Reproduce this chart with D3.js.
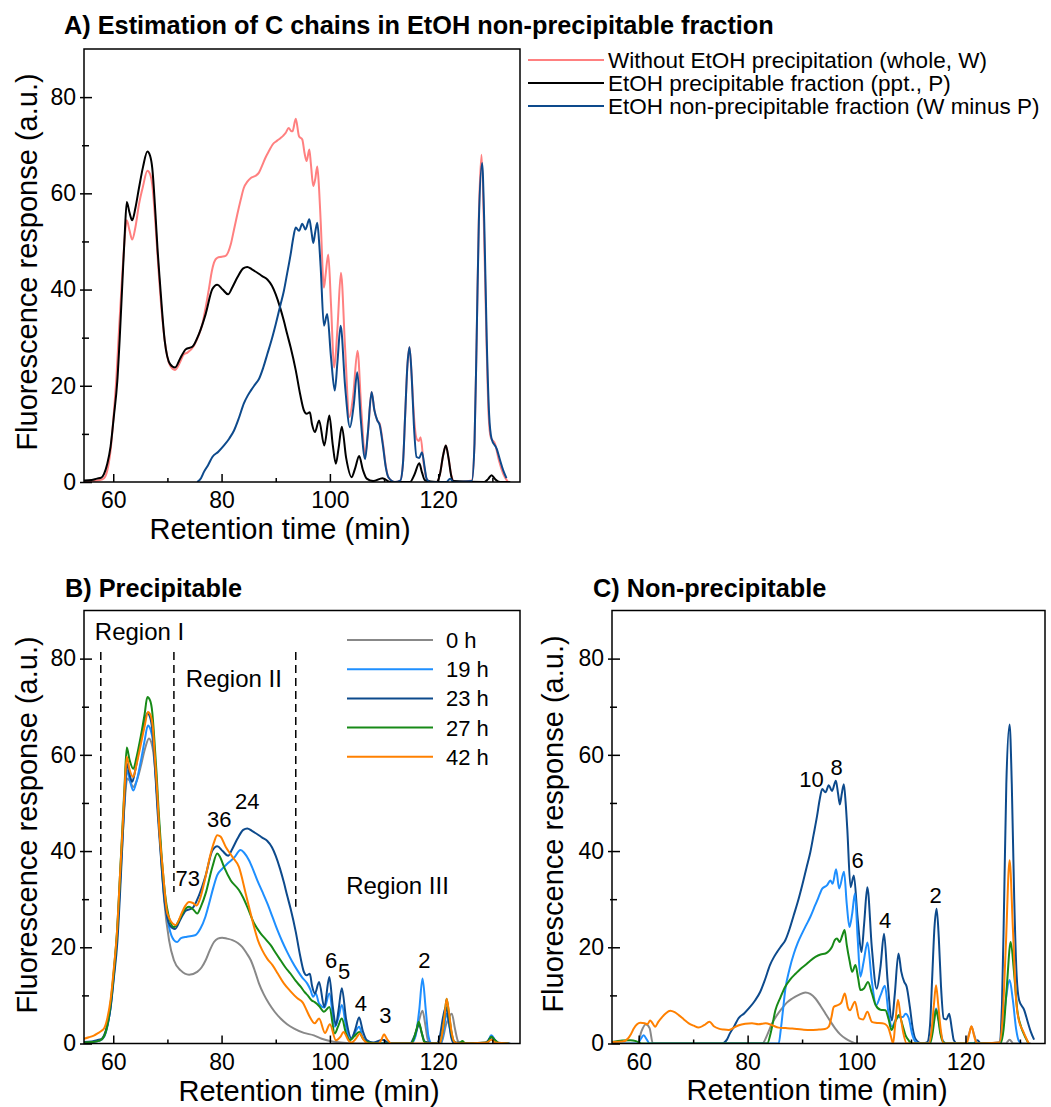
<!DOCTYPE html>
<html>
<head>
<meta charset="utf-8">
<script src="https://cdn.jsdelivr.net/npm/d3@7"></script>
<style>
  body { margin: 0; background: #fff; }
  svg { display: block; }
  text { font-family: "Liberation Sans", Arial, sans-serif; fill: #000; }
</style>
</head>
<body>
<div id="chart"></div>
<script>
// ---- data: [retention time (min), fluorescence (a.u.)] ----

// panel A, whole sample (W)
const wholeW = [[54.6,0.2],[56,0.2],[57.5,0.4],[58.3,0.8],[58.9,2.4],[59.5,6.5],[60.1,14.2],[60.6,22],[61.05,31.4],[61.5,40],[61.9,47.3],[62.5,54.4],[63.0,52.3],[63.5,50.4],[64.1,53],[64.75,57.7],[65.5,61.5],[66.3,64.7],[66.8,64],[67.2,61.8],[67.8,53.5],[68.3,45],[68.9,36],[69.5,29.4],[70.5,24.2],[71.4,23.3],[72.45,25.2],[73.0,26.5],[73.7,26.9],[74.9,28.3],[75.7,30.3],[76.45,32.8],[77.1,36.5],[77.7,40.4],[78.2,43.8],[78.6,45.6],[79.2,46.6],[80.0,46.8],[80.75,47.0],[81.7,49.4],[82.3,52.5],[82.9,55.6],[83.5,58.5],[84.1,61.1],[84.8,62.5],[85.4,63.2],[86.2,63.6],[86.9,64.3],[87.5,65.8],[88.1,67.4],[88.8,68.9],[89.4,70.1],[90.2,70.9],[90.9,71.5],[91.4,72.0],[91.8,72.5],[92.4,73.6],[92.8,73.0],[93.1,72.9],[93.7,75.5],[94.3,71.85],[94.9,71.2],[95.3,68.5],[95.7,66.7],[96.2,69.1],[96.5,66],[96.93,61.5],[97.3,63],[97.67,65.6],[98.0,61],[98.3,54.2],[98.9,40.4],[99.2,43],[99.7,47.3],[100.2,37],[100.8,23.8],[101.4,32],[102.04,43.5],[102.8,28],[103.6,13.5],[104.3,18],[105.1,27.3],[105.8,15],[106.5,5.5],[107.0,10],[107.7,18.7],[108.2,15],[108.75,12.8],[109.2,12.1],[109.8,8],[110.3,3.5],[110.8,1.0],[112,0],[113.0,0.3],[113.5,4],[113.9,14],[114.3,24],[114.7,28.0],[115.1,22],[115.5,14],[116.0,9.0],[116.4,8.5],[116.75,9.3],[117.3,4],[117.85,0.7],[118.5,0],[119.7,0],[120.3,1.5],[120.9,5.5],[121.4,7.6],[121.9,5],[122.4,1.5],[122.8,0.3],[124,0],[126.2,0.3],[126.7,8],[127.1,30],[127.5,55],[128.0,68.0],[128.4,55],[128.9,30],[129.3,14],[129.7,9.3],[130.5,7.9],[131.2,4.5],[132.0,1.7],[132.9,0]];

// precipitable fraction (P) = 23 h precipitable
const pptP = [[54.6,0.3],[56,0.4],[57,0.7],[57.8,0.9],[58.3,1.7],[58.9,3.8],[59.5,7.3],[60.1,13.5],[60.75,21],[61.2,30],[61.7,41.8],[62.1,51],[62.5,58.2],[63.0,56],[63.5,54.4],[64.1,57],[64.75,61.1],[65.5,65.5],[66.3,68.7],[66.8,67.8],[67.2,65.3],[67.8,55.6],[68.2,48],[68.6,41.8],[69.5,29.4],[70.5,24.5],[71.4,23.8],[72.45,25.9],[73.4,27.6],[74.6,28.1],[75.8,30.7],[77.06,34.9],[78.3,40.1],[79.2,41.0],[80.2,40.0],[81.2,39.0],[82.0,40.5],[82.9,42.5],[84.0,44.4],[84.75,44.7],[85.6,44.2],[86.6,43.5],[87.5,42.8],[88.45,42.1],[89.3,40.8],[90.0,39.0],[90.8,36.3],[91.5,33.5],[92.1,30.8],[92.75,28.0],[93.7,23.2],[94.5,18.3],[95.2,14.9],[95.7,14.2],[96.3,14.5],[96.7,12.0],[97.24,10.4],[98.0,12.8],[98.96,7.6],[99.9,13.8],[100.5,8],[101.1,3.8],[101.6,7],[102.2,11.5],[103.0,5],[104.0,1.0],[104.7,3],[105.4,5.4],[106.1,2.5],[106.8,0.7],[108,0.2],[109.7,0.8],[111.1,0],[114.8,0],[115.6,1.5],[116.5,3.9],[117.0,2],[117.55,0.35],[119.7,0],[120.3,1.5],[120.9,5.5],[121.4,7.6],[121.9,5],[122.4,1.3],[122.8,0.2],[128.5,0],[129.2,0.6],[129.85,1.4],[130.5,0.6],[131.4,0],[133.3,0]];

// non-precipitable fraction (W minus P) = 23 h non-precipitable
const nonPpt = [[75.5,0],[76.2,0.8],[76.75,2.1],[77.5,3.5],[78.3,5.2],[79.4,6.3],[80.45,7.6],[81.4,9.0],[82.3,10.7],[83.2,13.3],[84.1,16.3],[84.8,17.9],[85.4,19.0],[86.2,20.3],[86.9,21.4],[87.7,23.8],[88.45,26.6],[89.2,29.4],[90.0,32.8],[90.8,36.5],[91.5,39.7],[92.1,43.3],[92.75,47.3],[93.2,50.5],[93.7,52.9],[94.3,52.2],[94.9,53.7],[95.5,52.5],[96.2,54.6],[96.6,52],[96.93,49.7],[97.3,52],[97.67,53.9],[98.0,50],[98.3,44.6],[98.9,32.5],[99.5,34.9],[100.2,26],[100.9,19.0],[101.4,25],[101.98,32.5],[102.8,20],[103.7,11.4],[104.4,16],[105.05,22.8],[105.7,13],[106.5,4.8],[107.0,10],[107.7,18.7],[108.2,15],[108.75,12.8],[109.2,11.8],[109.8,7.5],[110.3,3.2],[110.8,1.0],[112,0],[113.0,0.3],[113.5,4],[113.9,14],[114.3,24],[114.7,28.0],[115.1,22],[115.5,12],[116.0,5.2],[116.5,5.0],[117.0,6.2],[117.5,3],[117.85,0.7],[118.5,0],[121.5,0],[122.2,0.7],[122.8,0],[126.2,0.2],[126.7,8],[127.1,30],[127.5,54],[128.1,66.3],[128.5,54],[128.95,30],[129.4,14],[129.85,9.0],[130.8,6.9],[131.5,4.2],[132.0,2.4],[132.6,0.8]];

// panel B, precipitable fractions
const ppt0h = [[54.6,0.2],[56,0.3],[57.5,0.6],[58.3,1.4],[58.9,3.5],[59.5,7.6],[60.1,14],[60.75,22.9],[61.2,32],[61.7,42.2],[62.1,50],[62.6,55.1],[63.1,54.5],[63.7,53.3],[64.3,54.5],[65.06,57.5],[65.8,61],[66.6,63.4],[67.1,62.3],[67.5,59.6],[68.0,53],[68.45,45.7],[68.9,37.5],[69.4,29.8],[70.3,21.5],[71.2,17.3],[72.45,15.2],[74.0,14.3],[75.5,14.9],[76.3,15.8],[77.06,17.3],[77.8,19.3],[78.6,21.1],[79.3,21.8],[80.1,22.0],[81.0,21.8],[82.0,21.5],[83.0,20.9],[83.8,20.1],[84.6,18.8],[85.4,17.3],[86.2,14.9],[86.9,12.5],[87.8,10.2],[88.75,8.3],[89.8,6.6],[90.9,5.2],[92.1,4.0],[93.4,3.1],[95.2,2.2],[97.05,1.7],[98.5,1.0],[100,0.5],[102,0.2],[105,0],[115.0,0],[115.7,1.4],[116.4,4.5],[117.1,6.8],[117.6,4],[118.1,0.7],[118.8,0],[120.5,0],[121.5,4.1],[122.5,6.2],[123.1,3],[123.7,0.4],[124.5,0],[129.0,0],[129.8,1.0],[130.6,0.2],[133,0]];
const ppt19h = [[54.6,0.2],[56,0.3],[57.5,0.6],[58.3,1.4],[58.9,3.5],[59.5,7.6],[60.1,14.5],[60.75,23.6],[61.2,33],[61.7,43.6],[62.1,51],[62.6,56.8],[63.1,54.5],[63.7,52.6],[64.3,54.5],[65.06,58.5],[65.8,63],[66.4,66.1],[66.9,65.2],[67.4,62.3],[67.9,55],[68.3,47.8],[68.8,40],[69.25,32.6],[70.3,24.2],[71.2,21.5],[71.8,21.1],[72.5,21.9],[73.6,22.2],[75.1,22.5],[76.1,23.9],[77.0,26.3],[77.7,29.1],[78.5,32.5],[79.2,35.0],[80.1,36.3],[81.1,37.4],[82.3,38.6],[83.5,40.2],[84.2,39.6],[85.06,38.1],[85.8,36.2],[86.6,33.9],[87.5,31.6],[88.45,29.1],[89.4,26.3],[90.3,23.6],[91.2,21.2],[92.1,19.05],[93.0,17.1],[94.0,15.2],[94.9,13.7],[95.8,12.5],[96.4,11.2],[96.9,9.7],[97.4,10.4],[98.0,8.3],[99.0,7.5],[99.9,10.4],[100.9,3.5],[101.6,5.5],[102.2,8.0],[103.0,3.5],[103.7,0.8],[104.5,2.0],[105.4,3.5],[106.0,1.5],[106.8,0.3],[108,0],[115.0,0],[115.8,1.5],[116.5,7],[117.1,13.5],[117.7,7],[118.2,1.5],[118.8,0],[120.5,0],[121.0,2.5],[121.5,6.2],[122.1,3.5],[122.7,0.6],[123.5,0],[129.0,0.2],[129.8,1.7],[130.6,0.6],[131.5,0],[133,0]];
const ppt23h = pptP;
const ppt27h = [[54.6,0.2],[56,0.3],[57.5,0.6],[58.3,1.5],[58.9,3.8],[59.5,8.3],[60.1,15],[60.75,24.2],[61.2,34],[61.7,45.0],[62.1,54],[62.5,61.5],[63.0,59],[63.7,57.1],[64.3,59.5],[65.06,63.7],[65.8,68.5],[66.3,72.0],[66.8,71.3],[67.2,68.9],[67.6,63],[68.0,56.1],[68.4,48],[68.9,39.5],[69.9,28.4],[71.2,24.2],[72.45,26.3],[73.0,27.5],[74.0,28.4],[74.9,27.7],[75.5,27.0],[76.2,28.5],[77.06,31.2],[78.3,36.7],[79.2,39.5],[79.7,38.8],[80.45,36.7],[81.7,33.9],[83.2,31.9],[84.0,30.3],[84.75,28.4],[86.0,25.0],[87.2,22.9],[88.2,21.6],[89.1,20.4],[90.0,18.8],[90.9,17.3],[91.8,15.8],[92.75,14.5],[93.7,13.0],[94.6,11.8],[95.4,10.6],[95.9,10.0],[96.3,9.4],[96.6,9.0],[97.2,8.6],[98.0,7.8],[98.9,6.6],[99.9,7.6],[100.9,2.1],[101.5,3.5],[102.2,5.2],[103.0,2.0],[103.7,0.7],[104.5,1.5],[105.4,2.4],[106.0,1.2],[106.8,0.3],[108,0.1],[109.5,0],[115.0,0],[115.5,1],[116.0,3],[116.4,4.5],[116.9,2.5],[117.4,0.4],[118.2,0],[120.3,0],[120.8,2.5],[121.2,6],[121.55,9.3],[122.0,6],[122.5,2.0],[123.0,0.3],[123.8,0],[124.5,0.5],[125.0,0],[129.0,0.2],[129.8,1.4],[130.4,0.8],[131.4,0],[133,0]];
const ppt42h = [[54.6,1.0],[55.5,1.3],[56.5,1.7],[57.1,2.1],[57.8,2.6],[58.3,3.1],[58.9,5.2],[59.5,9.0],[60.1,15.5],[60.75,24.2],[61.2,34],[61.7,44.3],[62.1,53],[62.5,59.6],[63.0,57],[63.7,55.4],[64.3,58],[65.06,62.0],[65.8,66],[66.4,68.9],[66.9,68.2],[67.3,65.8],[67.6,61],[68.1,52.6],[68.5,44.5],[69.1,36.7],[70.0,27.0],[71.5,24.6],[72.75,27.4],[73.3,28.6],[74.0,29.4],[74.7,29.2],[75.4,28.7],[76.0,30],[76.75,33.2],[78.0,39.5],[78.6,41.8],[79.2,43.3],[79.8,43.0],[80.75,40.9],[82.0,38.8],[83.2,36.7],[84.45,31.2],[85.2,27.8],[86.0,24.2],[86.7,21.5],[87.5,19.4],[88.45,17.6],[89.4,16.3],[90.4,14.5],[91.5,12.5],[92.7,10.9],[94.0,9.4],[95.0,8.5],[95.7,6.9],[96.3,5.5],[97.2,4.2],[98.0,5.2],[99.1,2.2],[100.0,4.0],[101.1,0.7],[102.0,1.5],[102.5,2.4],[103.5,0.5],[104.0,0.2],[104.8,1],[105.55,2.1],[106.2,0.8],[107.1,0],[109.0,0],[109.5,0.8],[110.0,1.9],[110.5,1.0],[111.4,0],[120.3,0],[120.8,2.5],[121.2,6],[121.55,9.3],[122.0,6.3],[122.5,2.2],[123.0,0.3],[124,0],[129.0,0.2],[129.8,0.8],[130.6,0.2],[133,0]];

// panel C, non-precipitable fractions
const non0h = [[55.1,0],[59.8,0],[60.5,2.5],[61.3,4.0],[62.0,3.2],[62.6,0],[82.7,0],[83.6,1.8],[84.5,4.2],[85.4,5.9],[86.3,7.3],[87.2,8.5],[88.2,9.35],[89.4,10.1],[90.6,10.6],[91.5,10.3],[92.45,9.35],[93.4,7.8],[94.3,6.2],[95.2,4.6],[96.1,3.1],[97.0,1.9],[98.0,1.0],[99.0,0.4],[100,0],[120.0,0],[120.6,1.8],[121.1,3.5],[121.6,1.8],[122.2,0],[127.4,0],[128.1,0.8],[128.8,0],[132.0,0]];
const non19h = [[55.1,0],[59.8,0],[60.4,1.0],[60.9,1.7],[61.5,0.8],[62.0,0],[85.7,0],[86.1,3],[86.5,7],[86.9,11.1],[87.7,15.5],[88.5,18.7],[89.2,20.9],[90.0,22.9],[90.8,24.7],[91.5,26.3],[92.2,28.2],[92.8,29.8],[93.3,31.2],[93.7,32.2],[94.6,32.9],[95.2,33.9],[95.6,33.2],[96.25,36.2],[96.8,32.2],[97.7,35.7],[98.2,29],[98.7,24.2],[99.2,27],[99.7,31.2],[100.2,22],[100.7,13.9],[101.3,17],[102.0,21],[102.8,13],[103.6,8],[104.4,10],[105.2,12],[105.9,6],[106.5,3.5],[107.2,5],[107.8,5.5],[108.5,5.5],[109.0,6.2],[109.6,5.2],[110.2,2],[110.8,0.4],[111.5,0],[113.3,0],[113.8,2.5],[114.2,5.5],[114.6,7.3],[115.0,5.5],[115.5,2],[116.0,0.3],[116.5,0],[126.2,0],[126.8,3],[127.4,9],[128.1,13.2],[128.7,9],[129.3,3],[129.8,0.5],[130.3,0]];
const non23h = nonPpt;
const non27h = [[55.1,0.3],[57,0.6],[58.5,0.7],[59.5,0.5],[60.5,0],[83.6,0],[84.3,2.5],[85.1,6.9],[86.0,9.5],[86.9,11.8],[87.8,13.3],[88.8,14.5],[89.7,15.5],[90.6,16.3],[91.5,17.2],[92.45,18.0],[93.4,18.5],[94.3,18.7],[95.0,19.3],[95.5,20.1],[96.0,21.5],[96.4,21.8],[96.9,21.1],[97.4,22.5],[97.8,23.6],[98.2,20.5],[98.7,17.3],[99.2,14.9],[99.8,16.3],[100.3,13.5],[100.7,11.1],[101.4,11.5],[102.1,12.8],[102.8,10.5],[103.5,8.0],[104.4,7.0],[105.3,6.9],[105.9,5.0],[106.4,2.8],[107.1,4.5],[107.8,5.9],[108.4,4.0],[109.0,1.7],[109.6,0.6],[110.2,0],[113.5,0],[114.0,2.5],[114.3,5],[114.6,7.0],[115.0,5],[115.4,2],[115.9,0.3],[116.4,0],[126.4,0],[127.0,3],[127.6,12],[128.3,21.1],[128.9,15],[129.5,7],[130.2,3.5],[130.9,1.5],[131.6,0]];
const non42h = [[55.1,0.3],[57.0,0.4],[58.0,1.0],[58.6,2.0],[59.1,3.1],[59.7,4.0],[60.3,4.3],[61.1,4.2],[61.6,4.0],[62.1,4.8],[63.05,3.5],[63.6,4.5],[64.3,5.5],[65.0,6.3],[65.8,6.8],[66.6,6.5],[67.35,5.9],[68.3,5.0],[69.2,4.2],[70.1,3.7],[71.0,3.3],[72.0,3.8],[73.0,4.5],[73.8,3.6],[74.7,3.1],[75.6,2.9],[76.5,2.8],[77.5,3.3],[78.4,3.8],[79.6,4.1],[80.8,4.2],[82.0,4.0],[83.3,4.2],[84.5,3.8],[85.7,3.3],[87.0,3.2],[88.2,3.1],[90.0,2.9],[91.5,2.8],[93.1,2.9],[94.2,3.0],[94.9,3.5],[95.4,5.5],[95.8,7.6],[96.6,8.0],[97.2,8.5],[97.85,10.4],[98.4,7.5],[98.8,6.9],[99.7,8.7],[100.5,5.2],[101.2,5.0],[102.0,6.6],[102.8,4.5],[103.5,4.3],[104.7,4.2],[105.3,4.0],[105.9,3.1],[106.3,1.5],[106.7,0],[107.1,4],[107.6,9.1],[108.1,5.5],[108.6,2.1],[109.2,0],[113.3,0],[113.8,3],[114.2,8],[114.6,12.1],[115.0,8],[115.5,2.5],[116.0,0],[120.2,0],[120.7,2],[121.1,3.6],[121.6,1.5],[122.1,0],[126.2,0.2],[126.8,5],[127.4,20],[128.1,38.1],[128.7,24],[129.3,9],[129.8,4.8],[130.6,2.5],[131.6,0]];

// ticks
const xMajor = [60, 80, 100, 120];
const xMinor = [70, 90, 110, 130];
const yMajor = [0, 20, 40, 60, 80];
const yMinor = [10, 30, 50, 70];

// legend labels
const legendA = ["Without EtOH precipitation (whole, W)", "EtOH precipitable fraction (ppt., P)", "EtOH non-precipitable fraction (W minus P)"];
const legendTimes = ["0 h", "19 h", "23 h", "27 h", "42 h"];

// annotations (data units): [text, time, value]
const regionLabels = [["Region I", 56.6, 83.8], ["Region II", 73.4, 74.1], ["Region III", 103.0, 31.1]];
const regionLines = [[57.7, 22.2, 81.4], [71.2, 31.5, 81.4], [93.7, 28.4, 81.4]];
const peakLabelsB = [["36", 77.3, 44.9], ["24", 82.5, 48.8], ["73", 71.5, 32.7], ["6", 99.1, 15.6], ["5", 101.5, 13.4], ["4", 104.6, 6.7], ["3", 109.1, 4.2], ["2", 116.3, 15.6]];
const peakLabelsC = [["10", 89.5, 53.4], ["8", 95.2, 55.75], ["6", 99.06, 36.5], ["4", 104.1, 24.1], ["2", 113.4, 29.3]];

const colors = { whole: "#ff8080", ppt: "#000000", non: "#0d4a8c",
  h0: "#888888", h19: "#1e8fff", h23: "#0d4a8c", h27: "#178a17", h42: "#ff8000" };
const timeColors = [colors.h0, colors.h19, colors.h23, colors.h27, colors.h42];

const svg = d3.select("#chart").append("svg")
  .attr("width", 1051).attr("height", 1107)
  .style("background", "#fff");

function drawPanel(p) {
  const x = d3.scaleLinear().domain(p.xDomain).range([p.left, p.right]);
  const y = d3.scaleLinear().domain([0, 90]).range([p.bottom, p.top]);
  const g = svg.append("g");

  g.append("clipPath").attr("id", "clip" + p.id)
    .append("rect").attr("x", p.left).attr("y", p.top)
    .attr("width", p.right - p.left).attr("height", p.bottom - p.top);

  const line = d3.line().x(d => x(d[0])).y(d => y(d[1])).curve(d3.curveMonotoneX);
  const lines = g.append("g").attr("clip-path", "url(#clip" + p.id + ")");
  p.series.forEach(s => {
    lines.append("path").attr("d", line(s.data))
      .attr("fill", "none").attr("stroke", s.color)
      .attr("stroke-width", 2).attr("stroke-linejoin", "round");
  });

  // x axis, ticks pointing inward
  g.append("g").attr("transform", "translate(0," + p.bottom + ")")
    .call(d3.axisBottom(x).tickValues(xMajor).tickSizeInner(-8).tickSizeOuter(0).tickPadding(10));
  g.append("g").attr("transform", "translate(0," + p.bottom + ")")
    .call(d3.axisBottom(x).tickValues(xMinor).tickSizeInner(-4).tickSizeOuter(0).tickFormat(""));
  // y axis, ticks crossing the frame
  const ya = g.append("g").attr("transform", "translate(" + p.left + ",0)")
    .call(d3.axisLeft(y).tickValues(yMajor).tickSizeInner(4).tickSizeOuter(0).tickPadding(4));
  ya.selectAll(".tick line").attr("x1", 8);
  const ym = g.append("g").attr("transform", "translate(" + p.left + ",0)")
    .call(d3.axisLeft(y).tickValues(yMinor).tickSizeInner(2).tickSizeOuter(0).tickFormat(""));
  ym.selectAll(".tick line").attr("x1", 5);

  g.selectAll(".domain").remove();
  g.selectAll(".tick line").attr("stroke", "#000").attr("stroke-width", 1.5);
  g.selectAll(".tick text").attr("font-size", 23)
    .attr("font-family", "'Liberation Sans', Arial, sans-serif").attr("fill", "#000");

  g.append("rect").attr("x", p.left).attr("y", p.top)
    .attr("width", p.right - p.left).attr("height", p.bottom - p.top)
    .attr("fill", "none").attr("stroke", "#000").attr("stroke-width", 1.5);

  g.append("text").attr("x", p.xTitleX).attr("y", p.xTitleY)
    .attr("text-anchor", "middle").attr("font-size", 29).text("Retention time (min)");
  g.append("text").attr("transform", "translate(" + p.yTitleX + "," + p.yTitleY + ") rotate(-90)")
    .attr("text-anchor", "middle").attr("font-size", 29).text("Fluorescence response (a.u.)");
  g.append("text").attr("x", p.titleX).attr("y", p.titleY)
    .attr("font-size", 25.3).attr("font-weight", "bold").text(p.title);

  return { x, y, g };
}

// ---- panel A ----
const A = drawPanel({
  id: "A", left: 84, right: 520, top: 49, bottom: 482, xDomain: [54.6, 135.1],
  series: [{ data: wholeW, color: colors.whole }, { data: pptP, color: colors.ppt }, { data: nonPpt, color: colors.non }],
  xTitleX: 280, xTitleY: 539, yTitleX: 37, yTitleY: 262,
  titleX: 64, titleY: 34, title: "A) Estimation of C chains in EtOH non-precipitable fraction"
});

const legA = svg.append("g").attr("transform", "translate(528,60)");
legendA.forEach((t, i) => {
  const row = legA.append("g").attr("transform", "translate(0," + i * 23 + ")");
  row.append("line").attr("x1", 0).attr("x2", 76).attr("y1", 0).attr("y2", 0)
    .attr("stroke", [colors.whole, colors.ppt, colors.non][i]).attr("stroke-width", 2);
  row.append("text").attr("x", 80).attr("y", 0).attr("dy", "0.36em")
    .attr("font-size", 22.5).text(t);
});

// ---- panel B ----
const B = drawPanel({
  id: "B", left: 84, right: 520, top: 610.5, bottom: 1043.5, xDomain: [54.6, 135.1],
  series: [ppt0h, ppt19h, ppt23h, ppt27h, ppt42h].map((d, i) => ({ data: d, color: timeColors[i] })),
  xTitleX: 309, xTitleY: 1101, yTitleX: 37, yTitleY: 825,
  titleX: 65, titleY: 597, title: "B) Precipitable"
});

regionLines.forEach(r => {
  B.g.append("line").attr("x1", B.x(r[0])).attr("x2", B.x(r[0]))
    .attr("y1", B.y(r[2])).attr("y2", B.y(r[1]))
    .attr("stroke", "#000").attr("stroke-width", 1.5).attr("stroke-dasharray", "8,5");
});
regionLabels.forEach(r => {
  B.g.append("text").attr("x", B.x(r[1])).attr("y", B.y(r[2]))
    .attr("font-size", 24).text(r[0]);
});
peakLabelsB.forEach(r => {
  B.g.append("text").attr("x", B.x(r[1])).attr("y", B.y(r[2]))
    .attr("font-size", 22).text(r[0]);
});

const legB = svg.append("g").attr("transform", "translate(347,640)");
legendTimes.forEach((t, i) => {
  const row = legB.append("g").attr("transform", "translate(0," + i * 29.2 + ")");
  row.append("line").attr("x1", 0).attr("x2", 86).attr("y1", 0).attr("y2", 0)
    .attr("stroke", timeColors[i]).attr("stroke-width", 2);
  row.append("text").attr("x", 99).attr("y", 0).attr("dy", "0.36em")
    .attr("font-family", "'DejaVu Sans', Verdana, sans-serif").attr("font-size", 22).text(t);
});

// ---- panel C ----
const C = drawPanel({
  id: "C", left: 612, right: 1045, top: 610.5, bottom: 1043.5, xDomain: [55.1, 134.6],
  series: [non23h, non0h, non19h, non27h, non42h].map((d, i) => ({ data: d, color: [colors.h23, colors.h0, colors.h19, colors.h27, colors.h42][i] })),
  xTitleX: 817, xTitleY: 1100, yTitleX: 563, yTitleY: 824,
  titleX: 593, titleY: 597, title: "C) Non-precipitable"
});

peakLabelsC.forEach(r => {
  C.g.append("text").attr("x", C.x(r[1])).attr("y", C.y(r[2]))
    .attr("font-size", 22).text(r[0]);
});
</script>
</body>
</html>
